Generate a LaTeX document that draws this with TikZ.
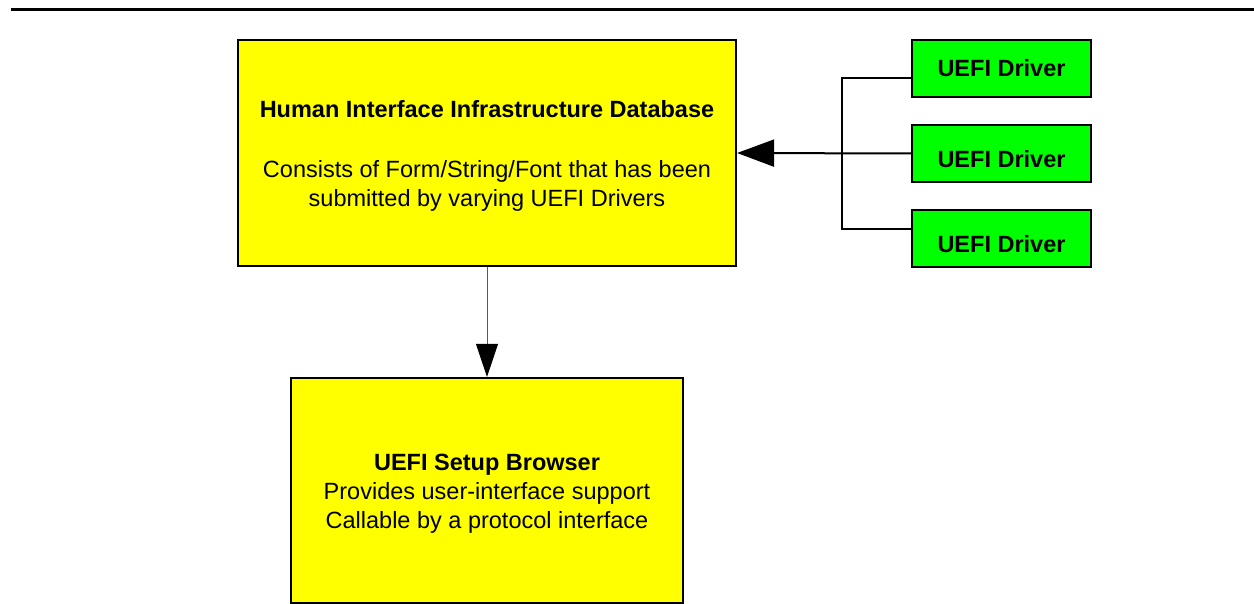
\documentclass[tikz,border=0pt]{standalone}
\usepackage{fontspec}
\setmainfont{Liberation Sans}
\usetikzlibrary{arrows.meta}
\definecolor{boxyellow}{HTML}{FFFF00}
\definecolor{boxgreen}{HTML}{00FF00}
\newcommand{\topstrut}{\rule{0pt}{22.5pt}}
\newcommand{\lowstrut}{\rule{0pt}{29pt}}
\tikzset{
  ybox/.style={draw=black, line width=2.2pt, fill=boxyellow, align=center, inner sep=0pt, font=\fontsize{23.5}{29}\selectfont},
  gbox/.style={draw=black, line width=2.2pt, fill=boxgreen, minimum width=179pt, minimum height=57pt, inner sep=0pt, font=\fontsize{23.5}{29}\selectfont\bfseries},
  busline/.style={line width=2pt},
  bigtip/.style={-{Triangle[length=37pt,width=27pt,fill=black,color=black]}, line width=2pt},
  thinarrow/.style={-{Triangle[length=33pt,width=22pt,fill=black,color=black]}, line width=0.9pt, draw=black!65},
}
\begin{document}
\begin{tikzpicture}[x=1pt,y=-1pt]
\useasboundingbox (0,0) rectangle (1254,604);
\coordinate (tl) at (11,10);
\coordinate (tr) at (1254,10);
\draw[line width=3pt] (tl) -- (tr);
\node[ybox, minimum width=498pt, minimum height=226pt] (hii) at (487,153)
  {\topstrut\textbf{Human Interface Infrastructure Database}\\[31pt]Consists of Form/String/Font that has been\\submitted by varying UEFI Drivers};
\node[gbox] (d1) at (1001.5,68.5) {UEFI Driver};
\node[gbox] (d2) at (1001.5,153.5) {\lowstrut UEFI Driver};
\node[gbox] (d3) at (1001.5,238.5) {\lowstrut UEFI Driver};
\node[ybox, minimum width=392pt, minimum height=225pt] (sb) at (487,490.5)
  {\topstrut\textbf{UEFI Setup Browser}\\Provides user-interface support\\Callable by a protocol interface};
\coordinate (bus) at (842,153);
\draw[busline] ([yshift=-9.5pt]d1.west) -| (bus) |- ([yshift=9.5pt]d3.west);
\draw[bigtip] (d2.west) -- (hii.east);
\draw[thinarrow] (hii.south) -- (sb.north);
\end{tikzpicture}
\end{document}
